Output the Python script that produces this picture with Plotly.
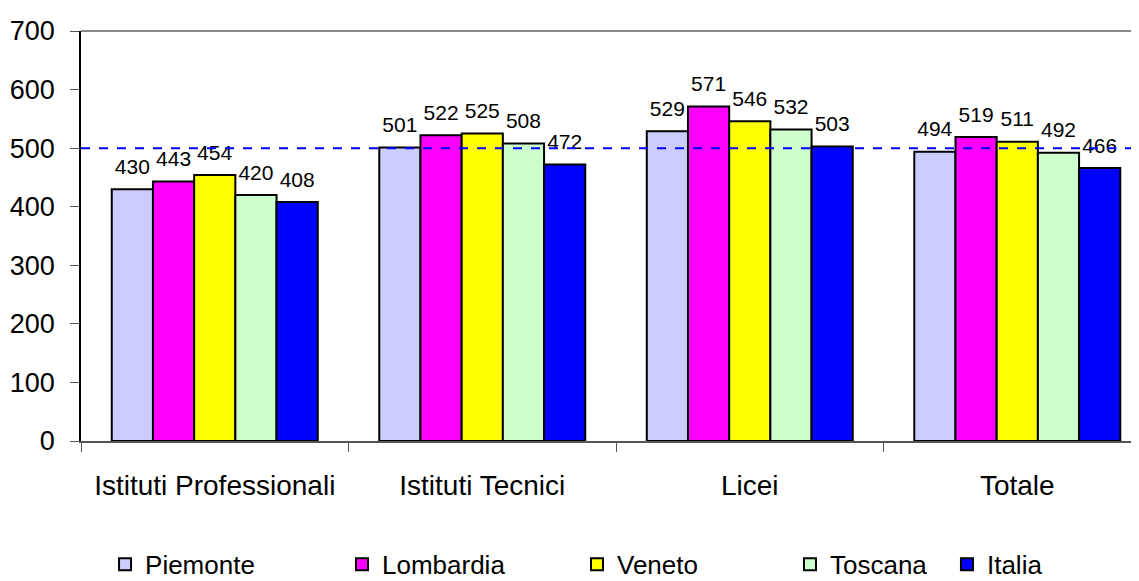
import plotly.graph_objects as go

categorie = ['Istituti Professionali', 'Istituti Tecnici', 'Licei', 'Totale']
regioni = ['Piemonte', 'Lombardia', 'Veneto', 'Toscana', 'Italia']
colori = ['#ccccff', '#ff00ff', '#ffff00', '#ccffcc', '#0000ff']

piemonte = [430, 501, 529, 494]
lombardia = [443, 522, 571, 519]
veneto = [454, 525, 546, 511]
toscana = [420, 508, 532, 492]
italia = [408, 472, 503, 466]
valori = [piemonte, lombardia, veneto, toscana, italia]

media_ocse = 500

# one legend per series so the entries sit where Excel put them
legende = ['legend', 'legend2', 'legend3', 'legend4', 'legend5']
legenda_x = [0.0858, 0.2953, 0.5031, 0.6914, 0.8302]

fig = go.Figure()
for nome, col, v, lg in zip(regioni, colori, valori, legende):
    fig.add_trace(go.Bar(
        x=categorie,
        y=v,
        name=nome,
        legend=lg,
        marker=dict(color=col, line=dict(color='black', width=2)),
        text=v,
        texttemplate='<span style="font-size:21px">%{text}</span><br> ',
        textposition='outside',
        textfont=dict(size=8, color='black'),
        constraintext='none',
        cliponaxis=False,
    ))

fig.add_shape(type='line', xref='paper', x0=0, x1=1, yref='y', y0=media_ocse, y1=media_ocse,
              line=dict(color='#0000ff', width=2, dash='dash'))
fig.add_shape(type='line', xref='paper', x0=0, x1=1, yref='paper', y0=1, y1=1,
              line=dict(color='#888888', width=2))

legend_style = dict(
    orientation='h',
    xref='container', yref='container',
    xanchor='left', yanchor='middle', y=0.029,
    font=dict(size=26),
    itemwidth=30,
    bgcolor='rgba(0,0,0,0)',
)
layout_legends = {}
for lg, lx in zip(legende, legenda_x):
    layout_legends[lg] = dict(legend_style, x=lx)

# the page body has an 8px margin, so the figure is 8px smaller than the window
fig.update_layout(
    width=1131, height=573,
    margin=dict(l=73, r=0, t=23, b=140),
    plot_bgcolor='white',
    paper_bgcolor='white',
    font=dict(family='Liberation Sans, Arial', color='black'),
    barmode='group',
    bargap=0.23,
    bargroupgap=0,
    showlegend=True,
    xaxis=dict(
        range=[-0.5, 3.455],
        automargin=False,
        showline=True, linecolor='#555555', linewidth=1.5,
        ticks='outside', tickson='boundaries', ticklen=9, tickcolor='#555555',
        tickfont=dict(size=28),
        ticklabelstandoff=19,
    ),
    yaxis=dict(
        range=[0, 700], dtick=100,
        automargin=False,
        showline=True, linecolor='black', linewidth=1.5,
        ticks='outside', ticklen=9, tickcolor='#555555',
        tickfont=dict(size=27),
        ticklabelstandoff=10,
        showgrid=False, zeroline=False,
    ),
    **layout_legends,
)

fig.write_html('out.html')
